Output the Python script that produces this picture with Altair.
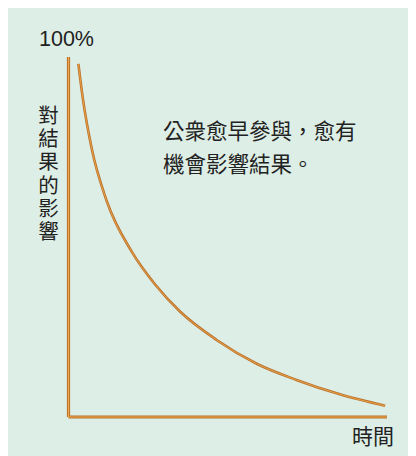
import altair as alt
import pandas as pd

# Curve (time 0-100, influence 0-100%)
time_vals = [3.1, 4.5, 7.3, 12.0, 19.8, 27.2, 35.0, 46.5, 59.1, 71.6, 85.2, 99.4]
influence_vals = [98.1, 88.5, 74.5, 60.0, 46.0, 36.8, 29.3, 21.4, 14.8, 10.3, 6.3, 3.1]

y_top_label = "100%"
y_title_chars = ["對", "結", "果", "的", "影", "響"]
x_title = "時間"
note_lines = ["公衆愈早參與，愈有", "機會影響結果。"]

curve = pd.DataFrame({"t": time_vals, "v": influence_vals})
axes_df = pd.DataFrame({"x": [0], "x2": [100], "y": [0], "y2": [100]})

BROWN = "#b8702c"
ORANGE = "#f0a84a"
BG = "#ddeee6"
CJK = "Noto Sans CJK TC"
INK = "#222222"

xs = alt.Scale(domain=[0, 100])
ys = alt.Scale(domain=[0, 100])

base_axes = alt.Chart(axes_df)
yaxis_outer = base_axes.mark_rule(color=BROWN, strokeWidth=3.2).encode(
    x=alt.X("x:Q", scale=xs, axis=None), y=alt.Y("y:Q", scale=ys, axis=None), y2="y2:Q")
xaxis_outer = base_axes.mark_rule(color=BROWN, strokeWidth=3.2).encode(
    x=alt.X("x:Q", scale=xs, axis=None), x2="x2:Q", y=alt.Y("y:Q", scale=ys, axis=None))
yaxis_inner = base_axes.mark_rule(color=ORANGE, strokeWidth=1.2).encode(
    x=alt.X("x:Q", scale=xs, axis=None), y=alt.Y("y:Q", scale=ys, axis=None), y2="y2:Q")
xaxis_inner = base_axes.mark_rule(color=ORANGE, strokeWidth=1.2).encode(
    x=alt.X("x:Q", scale=xs, axis=None), x2="x2:Q", y=alt.Y("y:Q", scale=ys, axis=None))

curve_outer = alt.Chart(curve).mark_line(color=BROWN, strokeWidth=2.6, interpolate="monotone").encode(
    x=alt.X("t:Q", scale=xs, axis=None), y=alt.Y("v:Q", scale=ys, axis=None))
curve_inner = alt.Chart(curve).mark_line(color=ORANGE, strokeWidth=0.9, interpolate="monotone").encode(
    x=alt.X("t:Q", scale=xs, axis=None), y=alt.Y("v:Q", scale=ys, axis=None))

one = pd.DataFrame({"a": [0]})
top_label = alt.Chart(one).mark_text(
    text=y_top_label, font="Liberation Sans", fontSize=21.5, color=INK,
    align="center", baseline="alphabetic").encode(x=alt.value(-2), y=alt.value(-11))

y_title_layers = [
    alt.Chart(one).mark_text(
        text=ch, font=CJK, fontSize=20.5, color=INK, align="center", baseline="middle"
    ).encode(x=alt.value(-20), y=alt.value(60 + 23.2 * i))
    for i, ch in enumerate(y_title_chars)
]

x_label = alt.Chart(one).mark_text(
    text=x_title, font=CJK, fontSize=21, color=INK,
    align="center", baseline="middle").encode(x=alt.value(304.5), y=alt.value(381))

note_layers = [
    alt.Chart(one).mark_text(
        text=line, font=CJK, fontSize=21.5, color=INK, align="left", baseline="middle"
    ).encode(x=alt.value(94.5), y=alt.value(76 + 33 * i))
    for i, line in enumerate(note_lines)
]

chart = alt.layer(
    yaxis_outer, xaxis_outer, yaxis_inner, xaxis_inner, curve_outer, curve_inner,
    top_label, *y_title_layers, x_label, *note_layers
).properties(
    width=318.5, height=360,
    autosize=alt.AutoSizeParams(type="none"),
    padding={"left": 60.5, "top": 49, "right": 21, "bottom": 42},
    background=BG,
).configure_view(stroke=None)

chart.save("out.html", embed_options={"renderer": "svg", "actions": False})
